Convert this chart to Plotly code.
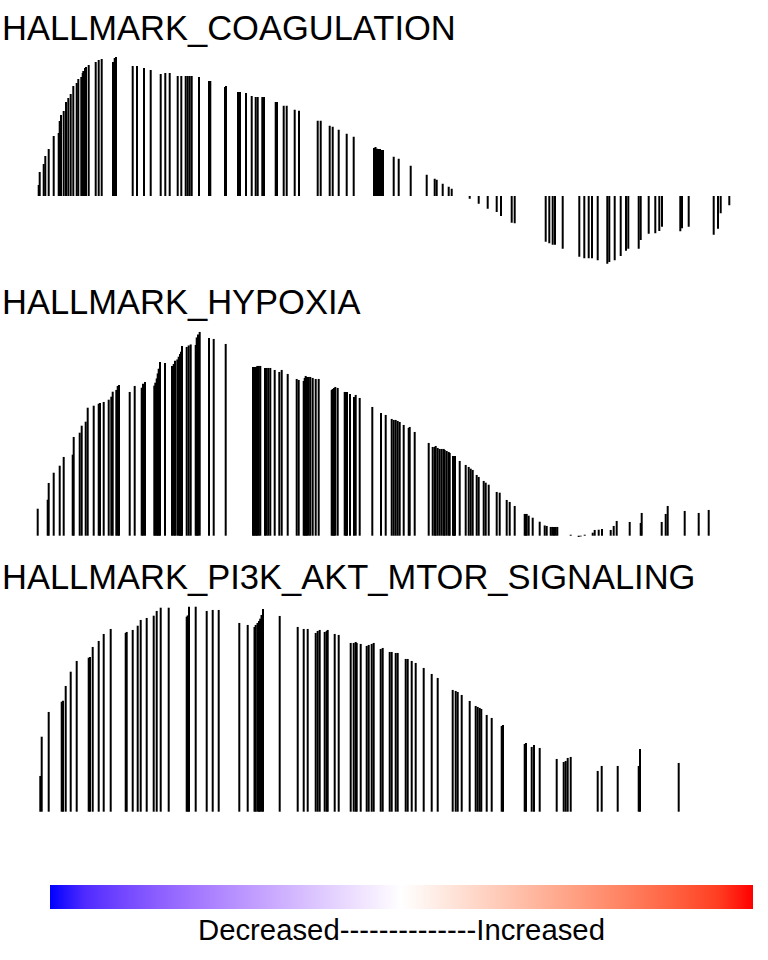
import plotly.graph_objects as go

# gene-set barcode / running enrichment score, one segment per hit gene
coag_rank = [54, 74, 154, 186, 254, 354, 454, 474, 500, 554,
             600, 646, 694, 746, 814, 846, 906, 934, 946, 980,
             1000, 1054, 1194, 1254, 1314, 1540, 1574, 1600, 1934, 2020,
             2160, 2294, 2494, 2586, 2674, 2834, 2906, 2994, 3034, 3074,
             3114, 3260, 3460, 3486, 3780, 3800, 4040, 4080, 4200, 4314,
             4394, 4434, 4526, 4560, 4794, 4820, 4954, 5014, 5174, 5260,
             5634, 5694, 5874, 5934, 6054, 6214, 6354, 6760, 6790, 6820,
             6850, 6880, 6910, 6940, 7154, 7254, 7494, 7814, 7974, 8014,
             8134, 8254, 8314, 8674, 8854, 9034, 9214, 9300, 9514, 9574,
             10194, 10266, 10334, 10380, 10534, 10866, 10966, 11054, 11120, 11234,
             11426, 11466, 11574, 11694, 11800, 11846, 12054, 12094, 12254, 12386,
             12466, 12520, 12886, 12920, 13054, 13554, 13640, 13694, 13866]
coag_es = [0.044, 0.096, 0.128, 0.160, 0.188, 0.240, 0.252, 0.300, 0.324, 0.340,
           0.376, 0.392, 0.408, 0.440, 0.452, 0.468, 0.476, 0.492, 0.500, 0.512,
           0.516, 0.524, 0.536, 0.544, 0.548, 0.536, 0.552, 0.556, 0.520, 0.520,
           0.512, 0.504, 0.488, 0.492, 0.492, 0.480, 0.480, 0.480, 0.480, 0.480,
           0.480, 0.476, 0.460, 0.460, 0.436, 0.440, 0.416, 0.416, 0.412, 0.400,
           0.396, 0.396, 0.396, 0.396, 0.376, 0.376, 0.361, 0.361, 0.345, 0.341,
           0.301, 0.301, 0.281, 0.277, 0.265, 0.249, 0.237, 0.192, 0.196, 0.189,
           0.188, 0.188, 0.184, 0.184, 0.157, 0.149, 0.121, 0.085, 0.069, 0.065,
           0.049, 0.037, 0.029, -0.011, -0.031, -0.051, -0.064, -0.080, -0.107, -0.109,
           -0.183, -0.189, -0.195, -0.195, -0.211, -0.243, -0.249, -0.249, -0.249, -0.257,
           -0.271, -0.264, -0.257, -0.240, -0.219, -0.211, -0.211, -0.176, -0.151, -0.149,
           -0.140, -0.123, -0.141, -0.129, -0.123, -0.155, -0.131, -0.069, -0.037]

hyp_rank = [34, 234, 254, 354, 474, 554, 734, 754, 874, 914,
            994, 1034, 1154, 1254, 1280, 1354, 1454, 1506, 1534, 1606,
            1634, 1660, 1874, 1974, 2114, 2140, 2180, 2366, 2386, 2414,
            2434, 2454, 2480, 2580, 2720, 2754, 2780, 2826, 2854, 2880,
            2900, 2920, 3014, 3054, 3094, 3194, 3214, 3240, 3274, 3460,
            3554, 3794, 4340, 4364, 4388, 4410, 4426, 4456, 4486,
            4580, 4612, 4646, 4686, 4774, 4866, 4914, 5034, 5214, 5254,
            5354, 5374, 5394, 5420, 5454, 5486, 5534, 5594, 5654, 5914,
            5934, 5960, 5986, 6034, 6174, 6200, 6220, 6280, 6360, 6394,
            6474, 6726, 6900, 6994, 7114, 7154, 7194, 7234, 7274, 7354,
            7454, 7474, 7574, 7854, 7934, 7974, 7994, 8034, 8074, 8114,
            8154, 8174, 8214, 8254, 8274, 8340, 8360, 8380, 8474, 8594,
            8654, 8694, 8734, 8814, 8854, 8954, 8994, 9054, 9214, 9274,
            9414, 9474, 9574, 9774, 9794, 9814, 9854, 9934, 10074, 10174,
            10214, 10294, 10326, 10360, 10394, 10426, 10694, 10854, 10894, 10974,
            11134, 11174, 11254, 11320, 11494, 11554, 11614, 11874, 12094, 12114,
            12514, 12594, 12634, 12974, 13254, 13454]
hyp_es = [0.108, 0.144, 0.211, 0.252, 0.280, 0.315, 0.324, 0.395, 0.412, 0.440,
          0.456, 0.512, 0.520, 0.528, 0.531, 0.535, 0.544, 0.556, 0.576, 0.583,
          0.599, 0.603, 0.575, 0.599, 0.592, 0.608, 0.615, 0.600, 0.612, 0.629,
          0.649, 0.668, 0.695, 0.691, 0.679, 0.687, 0.700, 0.705, 0.716, 0.727,
          0.736, 0.759, 0.755, 0.761, 0.765, 0.763, 0.793, 0.805, 0.815, 0.791,
          0.787, 0.767, 0.675, 0.675, 0.675, 0.675, 0.679, 0.679, 0.679,
          0.671, 0.671, 0.671, 0.671, 0.663, 0.655, 0.663, 0.647, 0.627, 0.623,
          0.619, 0.631, 0.639, 0.635, 0.635, 0.635, 0.631, 0.627, 0.627, 0.583,
          0.587, 0.591, 0.595, 0.591, 0.575, 0.575, 0.575, 0.567, 0.555, 0.563,
          0.551, 0.515, 0.491, 0.483, 0.467, 0.463, 0.463, 0.459, 0.455, 0.443,
          0.431, 0.435, 0.415, 0.371, 0.355, 0.355, 0.359, 0.351, 0.347, 0.347,
          0.347, 0.343, 0.339, 0.335, 0.331, 0.319, 0.319, 0.319, 0.299, 0.283,
          0.275, 0.268, 0.263, 0.243, 0.235, 0.219, 0.212, 0.204, 0.175, 0.172,
          0.143, 0.135, 0.119, 0.087, 0.087, 0.087, 0.080, 0.072, 0.056, 0.041,
          0.039, 0.035, 0.035, 0.035, 0.035, 0.035, 0.004, -0.005, -0.003, 0.004,
          0.012, 0.023, 0.024, 0.027, 0.023, 0.039, 0.059, 0.055, 0.051, 0.091,
          0.055, 0.087, 0.119, 0.099, 0.091, 0.103]

pi3k_rank = [86, 114, 254, 514, 540, 594, 694, 814, 1054, 1080,
             1134, 1254, 1354, 1494, 1794, 1814, 1934, 2034, 2094, 2214,
             2354, 2414, 2494, 2654, 3014, 3034, 3060, 3194, 3414, 3534,
             3654, 4066, 4234, 4370, 4394, 4430, 4460, 4484, 4510, 4540,
             4874, 5234, 5354, 5434, 5594, 5634, 5674, 5774, 5814, 5834,
             5974, 6054, 6294, 6354, 6394, 6414, 6494, 6614, 6654, 6714,
             6754, 6894, 6934, 7074, 7114, 7194, 7234, 7394, 7434, 7514,
             7594, 7754, 7914, 8034, 8334, 8394, 8434, 8514, 8674, 8794,
             8834, 8874, 8906, 9014, 9114, 9314, 9340, 9774, 9800, 9914,
             9960, 10074, 10414, 10554, 10594, 10634, 10694, 11234, 11314, 11634,
             12054, 12080, 12854]
pi3k_es = [0.143, 0.300, 0.399, 0.440, 0.444, 0.503, 0.560, 0.603, 0.616, 0.619,
           0.659, 0.683, 0.711, 0.731, 0.715, 0.719, 0.727, 0.744, 0.767, 0.775,
           0.784, 0.803, 0.816, 0.816, 0.780, 0.785, 0.820, 0.820, 0.803, 0.807,
           0.807, 0.755, 0.747, 0.739, 0.747, 0.755, 0.763, 0.772, 0.787, 0.811,
           0.783, 0.739, 0.731, 0.731, 0.715, 0.723, 0.727, 0.719, 0.723, 0.727,
           0.711, 0.707, 0.675, 0.675, 0.679, 0.675, 0.671, 0.663, 0.667, 0.671,
           0.675, 0.651, 0.655, 0.639, 0.639, 0.635, 0.635, 0.611, 0.611, 0.603,
           0.595, 0.575, 0.551, 0.535, 0.487, 0.483, 0.479, 0.467, 0.443, 0.423,
           0.419, 0.415, 0.411, 0.387, 0.375, 0.343, 0.347, 0.271, 0.275, 0.259,
           0.267, 0.255, 0.211, 0.199, 0.203, 0.215, 0.219, 0.163, 0.183, 0.183,
           0.183, 0.251, 0.195]

set_names = ["HALLMARK_COAGULATION", "HALLMARK_HYPOXIA", "HALLMARK_PI3K_AKT_MTOR_SIGNALING"]
scale_label = "Decreased--------------Increased"


# blue-white-red ramp mixed in Lab space (like ggplot's gradient2)
def to_lab(rgb):
    lin = [((c / 255 + 0.055) / 1.055) ** 2.4 if c / 255 > 0.04045 else c / 255 / 12.92 for c in rgb]
    X = (0.4124 * lin[0] + 0.3576 * lin[1] + 0.1805 * lin[2]) / 0.95047
    Y = 0.2126 * lin[0] + 0.7152 * lin[1] + 0.0722 * lin[2]
    Z = (0.0193 * lin[0] + 0.1192 * lin[1] + 0.9505 * lin[2]) / 1.08883
    f = lambda t: t ** (1 / 3) if t > 0.008856 else 7.787 * t + 16 / 116
    return (116 * f(Y) - 16, 500 * (f(X) - f(Y)), 200 * (f(Y) - f(Z)))


def from_lab(lab):
    L, a, b = lab
    fy = (L + 16) / 116
    fx, fz = fy + a / 500, fy - b / 200
    g = lambda t: t ** 3 if t ** 3 > 0.008856 else (t - 16 / 116) / 7.787
    X, Y, Z = 0.95047 * g(fx), g(fy), 1.08883 * g(fz)
    lin = [3.2406 * X - 1.5372 * Y - 0.4986 * Z,
           -0.9689 * X + 1.8758 * Y + 0.0415 * Z,
           0.0557 * X - 0.2040 * Y + 1.0570 * Z]
    out = []
    for c in lin:
        c = min(max(c, 0), 1)
        c = 1.055 * c ** (1 / 2.4) - 0.055 if c > 0.0031308 else 12.92 * c
        out.append(int(round(c * 255)))
    return "rgb(%d,%d,%d)" % tuple(out)


blue, white, red = to_lab((0, 0, 255)), to_lab((255, 255, 255)), to_lab((255, 0, 0))
cscale = []
for k in range(21):
    t = k / 20
    lo, hi, s = (blue, white, t * 2) if t <= 0.5 else (white, red, (t - 0.5) * 2)
    cscale.append([t, from_lab([lo[j] + (hi[j] - lo[j]) * s for j in range(3)])])

panels = [(coag_rank, coag_es), (hyp_rank, hyp_es), (pi3k_rank, pi3k_es)]
domains = [[0.71875, 0.947917], [0.432292, 0.661458], [0.145833, 0.380208]]
yranges = [[-0.296, 0.584], [-0.0372, 0.8428], [-0.0332, 0.8668]]
title_y = [0.9705, 0.6855, 0.3985]

fig = go.Figure()
for i, (ranks, es) in enumerate(panels):
    assert len(ranks) == len(es)
    xs, ys = [], []
    for r, e in zip(ranks, es):
        xs += [r, r, None]
        ys += [0, e, None]
    fig.add_trace(go.Scatter(x=xs, y=ys, mode="lines", line=dict(color="black", width=2),
                             yaxis="y" if i == 0 else "y%d" % (i + 1), hoverinfo="skip",
                             showlegend=False))

# colour key along the bottom
fig.add_trace(go.Scatter(x=[None], y=[None], mode="markers", showlegend=False,
                         marker=dict(color=[0], cmin=-1, cmax=1, colorscale=cscale,
                                     showscale=True,
                                     colorbar=dict(orientation="h", x=0.5228, xanchor="center",
                                                   y=0.0656, yanchor="middle", len=703, lenmode="pixels",
                                                   thickness=24, thicknessmode="pixels",
                                                   showticklabels=False, ticks="", outlinewidth=0,
                                                   xpad=0, ypad=0))))

hidden = dict(visible=False, showgrid=False, zeroline=False, fixedrange=True)
layout = dict(width=768, height=960, margin=dict(l=0, r=0, t=0, b=0),
              plot_bgcolor="white", paper_bgcolor="white", showlegend=False,
              xaxis=dict(range=[-720, 14640], **hidden))
for i in range(3):
    key = "yaxis" if i == 0 else "yaxis%d" % (i + 1)
    layout[key] = dict(domain=domains[i], range=yranges[i], anchor="x", **hidden)
fig.update_layout(**layout)

for name, ty in zip(set_names, title_y):
    fig.add_annotation(text=name, xref="paper", yref="paper", x=0.0, y=ty,
                       xanchor="left", yanchor="middle", showarrow=False,
                       font=dict(family="Liberation Sans, Arial", size=34.5, color="black"))
fig.add_annotation(text=scale_label, xref="paper", yref="paper", x=0.5228, y=0.032,
                   xanchor="center", yanchor="middle", showarrow=False,
                   font=dict(family="Liberation Sans, Arial", size=29.3, color="black"))

fig.write_html("out.html", config={"displayModeBar": False},
               post_script="document.body.style.margin='0';")
